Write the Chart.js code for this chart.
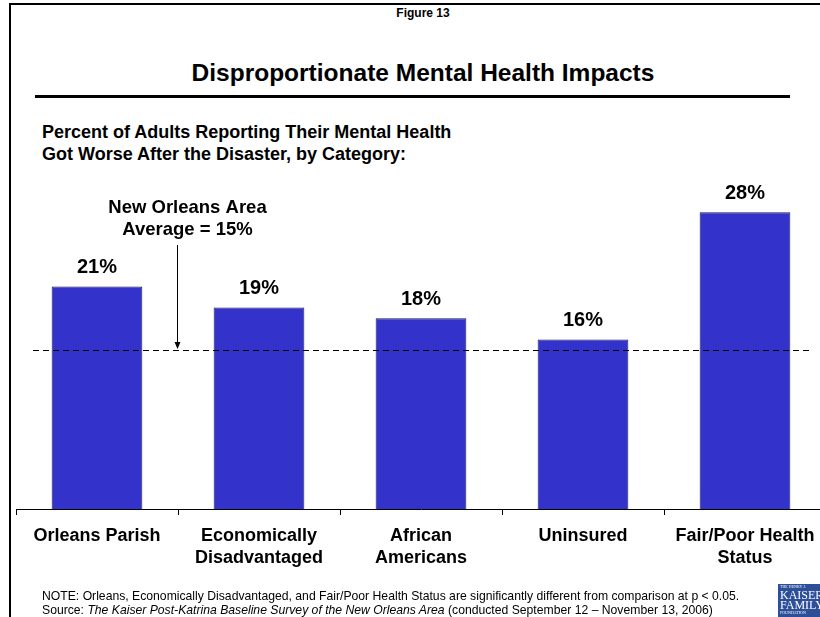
<!DOCTYPE html>
<html>
<head>
<meta charset="utf-8">
<script src="https://cdn.jsdelivr.net/npm/chart.js@4.4.1/dist/chart.umd.min.js"></script>
<style>
  html, body { margin: 0; padding: 0; width: 820px; height: 617px; overflow: hidden; background: #fff; }
  body { position: relative; font-family: "Liberation Sans", Arial, sans-serif; color: #000; }
  .frame { position: absolute; left: 9px; top: 3px; width: 900px; height: 700px; border: 2px solid #000; }
  .fig { position: absolute; left: 0; top: 6px; width: 846px; text-align: center; font-weight: bold; font-size: 12px; }
  .title { position: absolute; left: 0; top: 59px; width: 846px; text-align: center; font-weight: bold; font-size: 24.5px; }
  .rule { position: absolute; left: 35px; top: 95px; width: 755px; height: 3px; background: #000; }
  .sub { position: absolute; left: 42px; top: 121px; font-weight: bold; font-size: 18px; line-height: 22px; }
  .note { position: absolute; left: 42px; top: 589px; font-size: 12.2px; line-height: 14px; white-space: nowrap; }
  .logo { position: absolute; left: 778px; top: 584px; width: 60px; height: 33px; background: #2d4f9a; color: #fff;
          font-family: "Liberation Serif", serif; font-size: 12px; line-height: 10px; overflow: hidden; padding-left: 2px; }
  .logo small { font-size: 4px; display: block; line-height: 6px; }
  #wrap { position: absolute; left: 0; top: 0; width: 830px; height: 617px; }
</style>
</head>
<body>
<div class="frame"></div>
<div class="fig">Figure 13</div>
<div class="title">Disproportionate Mental Health Impacts</div>
<div class="rule"></div>
<div class="sub">Percent of Adults Reporting Their Mental Health<br>Got Worse After the Disaster, by Category:</div>
<div id="wrap"><canvas id="chart" width="830" height="617"></canvas></div>
<div class="note">NOTE: Orleans, Economically Disadvantaged, and Fair/Poor Health Status are significantly different from comparison at p &lt; 0.05.<br>Source: <i>The Kaiser Post-Katrina Baseline Survey of the New Orleans Area</i> (conducted September 12 – November 13, 2006)</div>
<div class="logo"><small>THE HENRY J.</small>KAISER<br>FAMILY<small>FOUNDATION</small></div>

<script>
const categories = [
  ["Orleans Parish"],
  ["Economically", "Disadvantaged"],
  ["African", "Americans"],
  ["Uninsured"],
  ["Fair/Poor Health", "Status"],
];
const values = [21, 19, 18, 16, 28];
const avgValue = 15;
const avgLabel = ["New Orleans Area", "Average = 15%"];

Chart.defaults.font.family = "'Liberation Sans', Arial, sans-serif";
Chart.defaults.color = "#000";

// value labels above bars
const barLabels = {
  id: "barLabels",
  afterDatasetsDraw(chart) {
    const ctx = chart.ctx;
    ctx.save();
    ctx.font = "bold 20px 'Liberation Sans', Arial, sans-serif";
    ctx.fillStyle = "#000";
    ctx.textAlign = "center";
    ctx.textBaseline = "bottom";
    chart.getDatasetMeta(0).data.forEach((bar, i) => {
      ctx.fillText(values[i] + "%", bar.x, bar.y - 9);
    });
    ctx.restore();
  },
};

// dashed average line with arrow and label
const avgLine = {
  id: "avgLine",
  afterDatasetsDraw(chart) {
    const ctx = chart.ctx;
    const x = chart.scales.x;
    const y = chart.scales.y.getPixelForValue(avgValue);
    ctx.save();
    ctx.strokeStyle = "#000";
    ctx.lineWidth = 1;
    ctx.setLineDash([6, 4]);
    ctx.beginPath();
    ctx.moveTo(33, Math.round(y) + 0.5);
    ctx.lineTo(810, Math.round(y) + 0.5);
    ctx.stroke();
    ctx.setLineDash([]);

    const ax = Math.round((x.getPixelForValue(0) + x.getPixelForValue(1)) / 2) - 0.5;
    ctx.beginPath();
    ctx.moveTo(ax, 245);
    ctx.lineTo(ax, y - 2);
    ctx.stroke();
    ctx.beginPath();
    ctx.moveTo(ax - 3, y - 8);
    ctx.lineTo(ax + 3, y - 8);
    ctx.lineTo(ax, y - 1);
    ctx.closePath();
    ctx.fillStyle = "#000";
    ctx.fill();

    ctx.font = "bold 18.5px 'Liberation Sans', Arial, sans-serif";
    ctx.textAlign = "center";
    ctx.textBaseline = "middle";
    ctx.fillText(avgLabel[0], ax + 10, 208);
    ctx.fillText(avgLabel[1], ax + 10, 230);
    ctx.restore();
  },
};

new Chart(document.getElementById("chart"), {
  type: "bar",
  data: {
    labels: categories,
    datasets: [
      {
        data: values,
        backgroundColor: "#3333cc",
        borderColor: "#1a1a55",
        borderWidth: 1,
        barPercentage: 0.56,
        categoryPercentage: 1,
      },
    ],
  },
  options: {
    responsive: false,
    devicePixelRatio: 1,
    animation: false,
    layout: { padding: { top: 191, bottom: 48, left: 16, right: 4 } },
    plugins: { legend: { display: false }, tooltip: { enabled: false } },
    scales: {
      x: {
        offset: true,
        grid: { drawOnChartArea: false, tickLength: 6, color: "#000", offset: true },
        border: { color: "#000", width: 1 },
        ticks: {
          font: { size: 18, weight: "bold", lineHeight: "22px" },
          color: "#000",
          padding: 10,
          maxRotation: 0,
          autoSkip: false,
        },
        afterFit(scale) {
          scale.height = 60;
        },
      },
      y: { display: false, min: 0, max: 30 },
    },
  },
  plugins: [barLabels, avgLine],
});
</script>
</body>
</html>
